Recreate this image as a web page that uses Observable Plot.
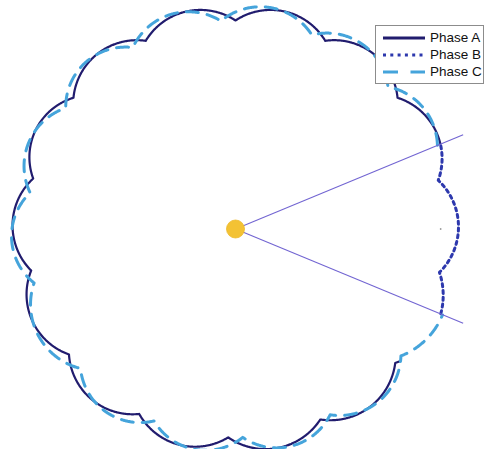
<!DOCTYPE html>
<html>
<head>
<meta charset="utf-8">
<script src="https://cdn.jsdelivr.net/npm/d3@7"></script>
<script src="https://cdn.jsdelivr.net/npm/@observablehq/plot@0.6"></script>
<style>
  html, body { margin: 0; padding: 0; background: #fff; overflow: hidden; }
  #wrap { position: relative; width: 489px; height: 449px; }
  #legend {
    position: absolute; left: 375px; top: 25px; width: 109px; height: 59px;
    border: 1px solid #8c8c8c; background: #fff; box-sizing: border-box;
    font-family: "Liberation Sans", Arial, sans-serif; font-size: 13.5px; color: #111;
  }
  #legend .row { position: absolute; left: 0; height: 17px; display: flex; align-items: center; }
  #legend svg { margin-left: 7px; margin-right: 5px; }
</style>
</head>
<body>
<div id="wrap"><div id="chart"></div><div id="legend"></div></div>
<script>
// Cusp angles (degrees, counter-clockwise from east) of the scalloped boundary
const phaseNames = ["Phase A", "Phase B", "Phase C"];
const cuspsAB = [90, 64.5, 39, 13.5, -12, -40, -66, -92, -117.5, -143, -168.5, 166, 141, 115.5];
const cuspsC = [94, 68.5, 43, 17.5, -8, -37.5, -63, -88, -113, -138, -165, 170, 144.5, 119.5];
// Radius at the cusps and at the crest of each lobe
const cuspRadius = [0.935, 0.935];
const crestRadius = [1.0, 1.005];
// Angular span drawn for each phase: start angle and counter-clockwise extent
const spanStart = [22.5, -22.5, 22.5];
const spanExtent = [298.5, 45, 315];
// Sector boundary rays
const sectorAngles = [22.5, -22.5];
const sectorLength = 1.105;
// Marker inside the sector
const markerPoint = [{r: 0.92, a: 0}];

const rad = Math.PI / 180;

// Each lobe is a circular arc through two neighbouring cusps and the crest between them
function outline(cusps, rc, rp, n = 160) {
  const a = cusps.map(d => ((d % 360) + 360) % 360).sort((p, q) => p - q);
  const pts = [];
  for (let i = 0; i < a.length; i++) {
    const a1 = a[i], a2 = i + 1 < a.length ? a[i + 1] : a[0] + 360;
    const half = (a2 - a1) / 2 * rad, m = a1 * rad + half;
    const h = rc * Math.sin(half), s = rp - rc * Math.cos(half);
    const rho = (h * h + s * s) / (2 * s), d = rp - rho;
    const beta = Math.atan2(h, rc * Math.cos(half) - d);
    for (let k = 0; k <= n; k++) {
      const phi = m - beta + 2 * beta * k / n;
      const x = d * Math.cos(m) + rho * Math.cos(phi);
      const y = d * Math.sin(m) + rho * Math.sin(phi);
      pts.push({x, y, theta: Math.atan2(y, x) / rad});
    }
  }
  return pts;
}

function span(pts, start, extent) {
  return pts
    .map(p => ({...p, t: (((p.theta - start) % 360) + 360) % 360}))
    .filter(p => p.t <= extent)
    .sort((p, q) => p.t - q.t);
}

const shapeAB = outline(cuspsAB, cuspRadius[0], crestRadius[0]);
const shapeC = outline(cuspsC, cuspRadius[1], crestRadius[1]);
const phaseA = span(shapeAB, spanStart[0], spanExtent[0]);
const phaseB = span(shapeAB, spanStart[1], spanExtent[1]);
const phaseC = span(shapeC, spanStart[2], spanExtent[2]);

const colors = ["#211c6e", "#2d38ad", "#45a4db"];
const dashes = [null, "3,3.8", "12,9"];
const widths = [2.2, 3, 3];

const W = 489, H = 449, cx = 235, cy = 228.5, k = 223;

const chart = Plot.plot({
  width: W, height: H, margin: 0,
  x: {domain: [-cx / k, (W - cx) / k], axis: null},
  y: {domain: [-(H - cy) / k, cy / k], axis: null},
  marks: [
    Plot.line(phaseA, {x: "x", y: "y", stroke: colors[0], strokeWidth: widths[0], strokeLinejoin: "round"}),
    Plot.line(phaseB, {x: "x", y: "y", stroke: colors[1], strokeWidth: widths[1], strokeDasharray: dashes[1]}),
    Plot.line(phaseC, {x: "x", y: "y", stroke: colors[2], strokeWidth: widths[2], strokeDasharray: dashes[2]}),
    Plot.link(sectorAngles, {
      x1: () => 0, y1: () => 0,
      x2: a => sectorLength * Math.cos(a * rad), y2: a => sectorLength * Math.sin(a * rad),
      stroke: "#7265d2", strokeWidth: 1.1
    }),
    Plot.dot(markerPoint, {x: d => d.r * Math.cos(d.a * rad), y: d => d.r * Math.sin(d.a * rad), r: 0.9, fill: "#9a9a9a"}),
    Plot.dot([[0, 0]], {x: d => d[0], y: d => d[1], r: 9, fill: "#f3c234", stroke: "#eeb92a", strokeWidth: 0.8})
  ]
});
document.getElementById("chart").appendChild(chart);

// Legend
const legend = document.getElementById("legend");
phaseNames.forEach((name, i) => {
  const row = document.createElement("div");
  row.className = "row";
  row.style.top = (3 + i * 17.2) + "px";
  const legendDash = [null, "3,4.3", "15,12.5"][i];
  row.innerHTML =
    `<svg width="42" height="8"><line x1="0" y1="4" x2="42" y2="4" stroke="${colors[i]}" stroke-width="3"` +
    (legendDash ? ` stroke-dasharray="${legendDash}"` : "") + `/></svg><span>${name}</span>`;
  legend.appendChild(row);
});
</script>
</body>
</html>
